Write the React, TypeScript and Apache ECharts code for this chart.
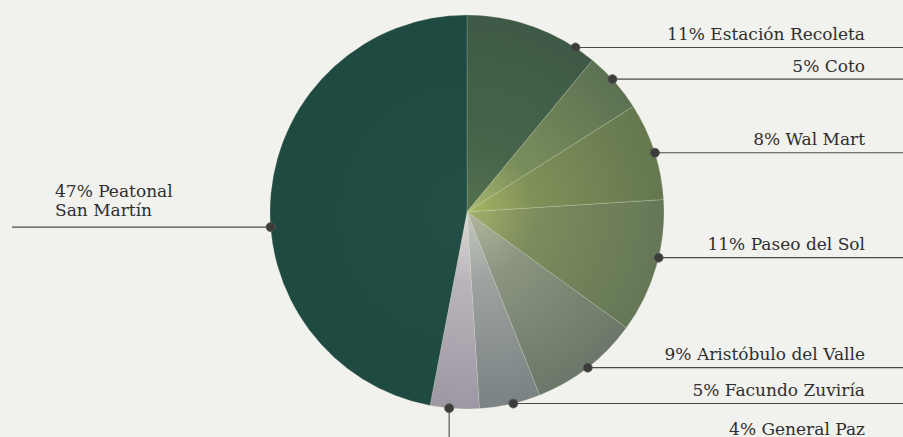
import React, { useEffect, useRef } from "react";
import * as echarts from "echarts";

// ---- data ----
const categories = [
  "Estación Recoleta",
  "Coto",
  "Wal Mart",
  "Paseo del Sol",
  "Aristóbulo del Valle",
  "Facundo Zuviría",
  "General Paz",
  "Peatonal\nSan Martín",
];
const shares = [11, 5, 8, 11, 9, 5, 4, 47];

// ---- styles ----
const W = 903;
const H = 437;
const CX = 467;
const CY = 212;
const R = 197;
const SLICE_INNER = ["#55724f", "#a9b86c", "#a8b664", "#a3b06a", "#b3b89e", "#c6c8c0", "#dedad8", "#234f46"];
const SLICE_MID = ["#46644a", "#7a8e5c", "#7f9058", "#7c8c5c", "#8a9480", "#9ea3a0", "#bab5bb", "#204c44"];
const SLICE_OUTER = ["#3e5a46", "#5c7152", "#64774f", "#657757", "#6b7768", "#7a8284", "#9c97a2", "#1f4a42"];
// where each label is hung: right side, bottom (vertical leader), left side
const LABEL_MODE = ["right", "right", "right", "right", "right", "right", "down", "left"];
// small angular shift of each leader's anchor from the slice's middle (degrees)
const ANCHOR_NUDGE = [13.6, -1, 0.5, -2.8, 0, -1, 1.6, -9.8];
const FONT = "'DejaVu Serif', 'Liberation Serif', serif";
const FONT_SIZE = 17;
const TEXT_COLOR = "#2f2f2f";
const LINE_COLOR = "#4a4a4a";

export default function App() {
  const ref = useRef<HTMLDivElement>(null);

  useEffect(() => {
    document.body.style.margin = "0";
    const el = ref.current!;
    const chart = echarts.init(el, null, { renderer: "svg" });

    const total = shares.reduce((a, b) => a + b, 0);

    chart.setOption({
      animation: false,
      backgroundColor: "#f1f1ee",
      series: [
        {
          type: "pie",
          center: [CX, CY],
          radius: [0, R],
          startAngle: 90,
          clockwise: true,
          silent: true,
          avoidLabelOverlap: false,
          label: { show: false },
          labelLine: { show: false },
          data: categories.map((name, i) => ({
            name,
            value: shares[i],
            itemStyle: {
              color: {
                type: "radial",
                x: CX,
                y: CY,
                r: R,
                global: true,
                colorStops: [
                  { offset: 0, color: SLICE_INNER[i] },
                  { offset: 0.35, color: SLICE_MID[i] },
                  { offset: 1, color: SLICE_OUTER[i] },
                ],
              },
              borderColor: "rgba(225,232,200,0.25)",
              borderWidth: 0.8,
            },
          })),
        },
      ],
    });

    // read the slice geometry that ECharts computed
    let data: any = null;
    try {
      data = (chart as any).getModel().getSeriesByIndex(0).getData();
    } catch (e) {
      data = null;
    }

    const graphics: any[] = [];
    let acc = 0;
    shares.forEach((v, i) => {
      let start: number, end: number, cx = CX, cy = CY, r = R;
      const lay = data ? data.getItemLayout(i) : null;
      if (lay && lay.startAngle != null) {
        start = lay.startAngle;
        end = lay.endAngle;
        cx = lay.cx;
        cy = lay.cy;
        r = lay.r;
      } else {
        start = -Math.PI / 2 + (acc / total) * Math.PI * 2;
        end = -Math.PI / 2 + ((acc + v) / total) * Math.PI * 2;
      }
      acc += v;
      const mid = (start + end) / 2 + (ANCHOR_NUDGE[i] * Math.PI) / 180;
      const ax = cx + r * Math.cos(mid);
      const ay = cy + r * Math.sin(mid);
      const text = `${v}% ${categories[i]}`;
      const mode = LABEL_MODE[i];
      const textStyle = {
        text,
        fontFamily: FONT,
        fontSize: FONT_SIZE,
        fill: TEXT_COLOR,
        verticalAlign: "bottom",
      };

      if (mode === "right") {
        graphics.push({
          type: "line",
          z: 100,
          shape: { x1: ax, y1: ay, x2: W, y2: ay },
          style: { stroke: LINE_COLOR, lineWidth: 1.1 },
        });
        graphics.push({
          type: "text",
          z: 100,
          x: 865,
          y: ay - 5,
          style: { ...textStyle, align: "right" },
        });
      } else if (mode === "down") {
        graphics.push({
          type: "line",
          z: 100,
          shape: { x1: ax, y1: ay, x2: ax, y2: H },
          style: { stroke: LINE_COLOR, lineWidth: 1.1 },
        });
        graphics.push({
          type: "text",
          z: 100,
          x: 865,
          y: 437,
          style: { ...textStyle, align: "right" },
        });
      } else {
        graphics.push({
          type: "line",
          z: 100,
          shape: { x1: ax, y1: ay, x2: 12, y2: ay },
          style: { stroke: LINE_COLOR, lineWidth: 1.1 },
        });
        graphics.push({
          type: "text",
          z: 100,
          x: 55,
          y: ay - 8,
          style: { ...textStyle, align: "left", lineHeight: 19 },
        });
      }
      graphics.push({
        type: "circle",
        z: 101,
        shape: { cx: ax, cy: ay, r: 4.5 },
        style: { fill: "#3b3d3b", stroke: "#5a5c5a", lineWidth: 0.8 },
      });
    });

    chart.setOption({ graphic: graphics });

    return () => {
      chart.dispose();
    };
  }, []);

  return <div ref={ref} style={{ width: W, height: H }} />;
}
